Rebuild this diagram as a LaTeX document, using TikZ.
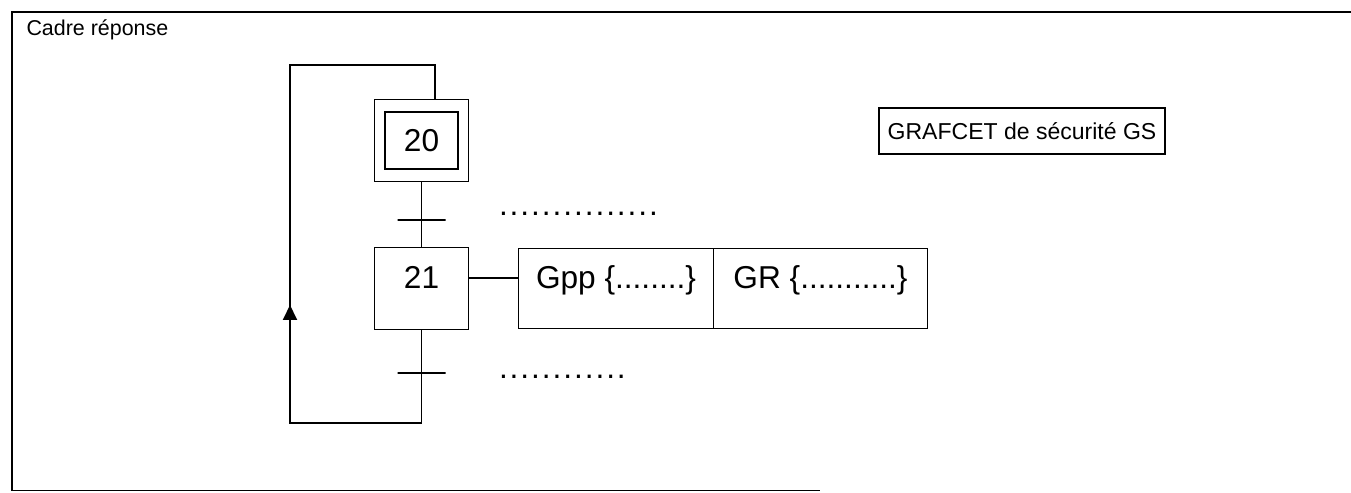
\documentclass[tikz,border=0pt]{standalone}
\usepackage{fontspec}
\setmainfont{Liberation Sans}
\usetikzlibrary{arrows.meta,positioning}
\newcommand\pointilles[1]{\foreach \k in {1,...,#1}{.\kern1.1pt}}

\begin{document}
\begin{tikzpicture}[
  font=\fontsize{18}{21}\selectfont, line width=1.1pt, outer sep=0pt,
  etape/.style={draw, minimum width=1.88cm, minimum height=1.64cm, inner sep=0pt},
  action/.style={draw, minimum height=1.6cm, inner sep=0pt, text height=0.3cm, text depth=0.3cm},
  trans/.style={draw, minimum width=0.96cm, minimum height=0pt, inner sep=0pt},
  recep/.style={anchor=base west, inner sep=0pt},
  fl/.style={-{Triangle[length=0.3cm, width=0.28cm]}},
]
\useasboundingbox (0,0) rectangle (27.02,9.84);
% cadre
\draw (27.02,9.60) -- (0.24,9.60) -- (0.24,0.03) -- (16.4,0.03);
\node[anchor=base west, inner sep=0pt, font=\fontsize{12.2}{14}\selectfont] (cadre) at (0.53,9.12) {Cadre réponse};
% etapes
\node[etape] (s20x) at (8.43,7.03) {};
\node[draw, minimum width=1.46cm, minimum height=1.14cm, inner sep=0pt] (s20) at (s20x) {20};
\node[etape, below=1.32cm of s20x, text height=0.3cm, text depth=0.3cm] (s21) {21};
\node[action, minimum width=3.9cm, right=1cm of s21] (gpp) {Gpp \{........\}};
\node[action, minimum width=4.28cm, right=0cm of gpp] (gr) {GR \{...........\}};
% transitions
\node[trans] (t1) at (8.43,5.44) {};
\node[trans] (t2) at (8.43,2.38) {};
\node[recep] (r1) at (9.98,5.53) {\pointilles{15}};
\node[recep] (r2) at (9.98,2.27) {\pointilles{12}};
% liaisons
\coordinate (retbas) at (5.80,1.38);
\coordinate (rethaut) at (5.80,8.54);
\coordinate (pointe) at (5.80,3.74);
\draw (s20x) -- (s21);
\draw ([yshift=0.21cm]s21.east) -- ([yshift=0.21cm]gpp.west);
\draw (s21.south) |- (retbas) -- (rethaut) -| ([xshift=0.27cm]s20x.north);
\draw[fl] (retbas) -- (pointe);
% titre
\node[draw, minimum width=5.72cm, minimum height=0.92cm, inner sep=0pt, text height=0.33cm, text depth=0cm,
  font=\fontsize{13.1}{15}\selectfont] (titre) at (20.44,7.22) {GRAFCET de sécurité GS};
\end{tikzpicture}
\end{document}
